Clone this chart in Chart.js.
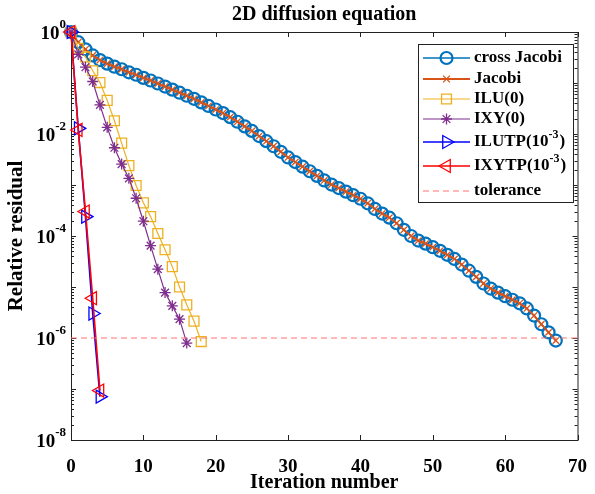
<!DOCTYPE html>
<html>
<head>
<meta charset="utf-8">
<script src="https://cdn.jsdelivr.net/npm/chart.js@4"></script>
<style>
  body { margin: 0; background: #fff; }
  canvas { display: block; }
</style>
</head>
<body>
<canvas id="chart" width="595" height="494"></canvas>
<script>
// 반복 횟수별 상대 잔차
const crossJacobi = [1, 0.631, 0.457, 0.347, 0.282, 0.240, 0.209, 0.186, 0.162, 0.145,
    0.126, 0.112, 0.0977, 0.0851, 0.0741, 0.0646, 0.0562, 0.0490, 0.0417, 0.0355,
    0.0302, 0.0257, 0.0214, 0.0174, 0.0141, 0.0115, 9.12e-3, 7.24e-3, 5.75e-3, 4.47e-3,
    3.47e-3, 2.82e-3, 2.29e-3, 1.86e-3, 1.51e-3, 1.23e-3, 1.02e-3, 8.71e-4, 7.41e-4, 6.31e-4,
    5.37e-4, 4.37e-4, 3.39e-4, 2.75e-4, 2.29e-4, 1.78e-4, 1.32e-4, 1.0e-4, 8.13e-5, 7.08e-5,
    6.03e-5, 5.13e-5, 4.27e-5, 3.55e-5, 2.75e-5, 2.09e-5, 1.58e-5, 1.17e-5, 9.33e-6, 7.76e-6,
    6.61e-6, 5.62e-6, 4.79e-6, 3.80e-6, 2.75e-6, 1.86e-6, 1.29e-6, 8.91e-7];
const jacobi = [1, 0.631, 0.457, 0.347, 0.282, 0.240, 0.209, 0.186, 0.162, 0.145,
    0.126, 0.112, 0.0977, 0.0851, 0.0741, 0.0646, 0.0562, 0.0490, 0.0417, 0.0355,
    0.0302, 0.0257, 0.0214, 0.0174, 0.0141, 0.0115, 9.12e-3, 7.24e-3, 5.75e-3, 4.47e-3,
    3.47e-3, 2.82e-3, 2.29e-3, 1.86e-3, 1.51e-3, 1.23e-3, 1.02e-3, 8.71e-4, 7.41e-4, 6.31e-4,
    5.37e-4, 4.37e-4, 3.39e-4, 2.75e-4, 2.29e-4, 1.78e-4, 1.32e-4, 1.0e-4, 8.13e-5, 7.08e-5,
    6.03e-5, 5.13e-5, 4.27e-5, 3.55e-5, 2.75e-5, 2.09e-5, 1.58e-5, 1.17e-5, 9.33e-6, 7.76e-6,
    6.61e-6, 5.62e-6, 4.79e-6, 3.80e-6, 2.75e-6, 1.86e-6, 1.29e-6, 8.91e-7];
const ilu0 = [1, 0.479, 0.324, 0.174, 0.102, 0.0457, 0.0182, 6.61e-3, 2.40e-3, 9.77e-4,
    4.47e-4, 2.40e-4, 1.12e-4, 5.37e-5, 2.51e-5, 1.0e-5, 4.47e-6, 2.14e-6, 8.51e-7];
const ixy0 = [1, 0.363, 0.204, 0.107, 0.0372, 0.0135, 5.37e-3, 2.57e-3, 1.35e-3, 5.50e-4,
    1.95e-4, 6.46e-5, 2.24e-5, 7.76e-6, 4.27e-6, 2.34e-6, 7.94e-7];
const ilutp = [1, 0.0129, 2.40e-4, 3.02e-6, 7.08e-8];
const ixytp = [1, 0.012, 3.02e-4, 6.03e-6, 9.33e-8];
const tolerance = 1e-6;

// 축 눈금
const xTicks = [0, 10, 20, 30, 40, 50, 60, 70];
const yTickExp = ['-8', '-6', '-4', '-2', '0'];
const yTickVals = [1e-8, 1e-6, 1e-4, 1e-2, 1];

const FONT = "'Liberation Serif', 'Times New Roman', serif";

function toPts(arr) {
    return arr.map(function(v, i) { return { x: i, y: v }; });
}

// 마커 그리기 (범례용)
function drawMarker(c, style, x, y, r, rot) {
    c.beginPath();
    if (style === 'circle') {
        c.arc(x, y, r, 0, Math.PI * 2);
    } else if (style === 'crossRot') {
        var d = r * 0.75;
        c.moveTo(x - d, y - d); c.lineTo(x + d, y + d);
        c.moveTo(x - d, y + d); c.lineTo(x + d, y - d);
    } else if (style === 'rect') {
        var s = r * Math.SQRT1_2;
        c.rect(x - s, y - s, 2 * s, 2 * s);
    } else if (style === 'star') {
        var d2 = r * 0.7;
        c.moveTo(x - r, y); c.lineTo(x + r, y);
        c.moveTo(x, y - r); c.lineTo(x, y + r);
        c.moveTo(x - d2, y - d2); c.lineTo(x + d2, y + d2);
        c.moveTo(x - d2, y + d2); c.lineTo(x + d2, y - d2);
    } else if (style === 'triangle') {
        var a = rot * Math.PI / 180;
        for (var k = 0; k < 3; k++) {
            var t = a + k * 2 * Math.PI / 3;
            var px = x + Math.sin(t) * r, py = y - Math.cos(t) * r;
            if (k === 0) c.moveTo(px, py); else c.lineTo(px, py);
        }
        c.closePath();
    }
    c.stroke();
}

const series = [
    { label: 'cross Jacobi', data: crossJacobi, color: '#0072BD', style: 'circle', r: 6, rot: 0, lw: 1.5, pw: 2.2 },
    { label: 'Jacobi', data: jacobi, color: '#D95319', style: 'crossRot', r: 4.5, rot: 0, lw: 1.8, pw: 1.3 },
    { label: 'ILU(0)', data: ilu0, color: '#EDB120', style: 'rect', r: 7, rot: 0, lw: 1.2, pw: 1.3 },
    { label: 'IXY(0)', data: ixy0, color: '#7E2F8E', style: 'star', r: 5.5, rot: 0, lw: 1.2, pw: 1.3 },
    { label: 'ILUTP', sup: '-3', data: ilutp, color: '#0000FF', style: 'triangle', r: 7.5, rot: 90, lw: 1.6, pw: 1.3 },
    { label: 'IXYTP', sup: '-3', data: ixytp, color: '#FF0000', style: 'triangle', r: 7.5, rot: -90, lw: 1.6, pw: 1.3 }
];

const datasets = series.map(function(s, idx) {
    return {
        label: s.label,
        data: toPts(s.data),
        borderColor: s.color,
        borderWidth: s.lw,
        pointStyle: s.style,
        pointRadius: s.r,
        pointRotation: s.rot,
        pointBorderColor: s.color,
        pointBackgroundColor: 'rgba(0,0,0,0)',
        pointBorderWidth: s.pw,
        fill: false,
        tension: 0,
        clip: false,
        order: 10 - idx
    };
});
datasets.push({
    label: 'tolerance',
    data: [{ x: 0, y: tolerance }, { x: 70, y: tolerance }],
    borderColor: '#FF7070',
    borderWidth: 1.2,
    borderDash: [6, 4],
    pointRadius: 0,
    fill: false,
    clip: false,
    order: 0
});

// 축 박스, 눈금, 제목, 범례
const decor = {
    id: 'decor',
    beforeDatasetsDraw: function(chart) {
        const c = chart.ctx, a = chart.chartArea;
        const xs = chart.scales.x, ys = chart.scales.y;
        c.save();
        c.strokeStyle = '#222';
        c.lineWidth = 1;
        c.beginPath();
        // x 눈금 (안쪽)
        xTicks.forEach(function(v) {
            const px = Math.round(xs.getPixelForValue(v)) + 0.5;
            c.moveTo(px, a.bottom); c.lineTo(px, a.bottom - 5);
            c.moveTo(px, a.top); c.lineTo(px, a.top + 5);
        });
        // y 주/보조 눈금
        for (var d = -8; d <= 0; d++) {
            const py = Math.round(ys.getPixelForValue(Math.pow(10, d))) + 0.5;
            c.moveTo(a.left, py); c.lineTo(a.left + 5, py);
            c.moveTo(a.right, py); c.lineTo(a.right - 5, py);
            if (d < 0) {
                for (var k = 2; k <= 9; k++) {
                    const my = Math.round(ys.getPixelForValue(k * Math.pow(10, d))) + 0.5;
                    c.moveTo(a.left, my); c.lineTo(a.left + 3, my);
                    c.moveTo(a.right, my); c.lineTo(a.right - 3, my);
                }
            }
        }
        c.stroke();
        c.strokeRect(a.left + 0.5, a.top + 0.5, a.right - a.left, a.bottom - a.top);

        // y 눈금 라벨 10^n
        c.fillStyle = '#000';
        c.textBaseline = 'middle';
        yTickVals.forEach(function(v, i) {
            const py = ys.getPixelForValue(v);
            const exp = yTickExp[i];
            c.font = 'bold 13px ' + FONT;
            const ew = c.measureText(exp).width;
            const right = a.left - 5;
            c.textAlign = 'right';
            c.fillText(exp, right, py - 7);
            c.font = 'bold 19px ' + FONT;
            c.fillText('10', right - ew, py + 2);
        });

        // 제목
        c.textAlign = 'center';
        c.font = 'bold 20px ' + FONT;
        c.fillText('2D diffusion equation', (a.left + a.right) / 2, 15);
        c.font = 'bold 20px ' + FONT;
        c.fillText('Iteration number', (a.left + a.right) / 2, 483);
        c.save();
        c.translate(17, (a.top + a.bottom) / 2);
        c.rotate(-Math.PI / 2);
        c.font = 'bold 21px ' + FONT;
        c.fillText('Relative residual', 0, 0);
        c.restore();
        c.restore();
    },
    afterDraw: function(chart) {
        const c = chart.ctx;
        c.save();
        // 범례 상자
        const bx = 418.5, by = 44.5, bw = 155, bh = 158;
        c.fillStyle = '#fff';
        c.fillRect(bx, by, bw, bh);
        c.strokeStyle = '#222';
        c.lineWidth = 1;
        c.strokeRect(bx, by, bw, bh);
        const rows = [58, 79, 99, 119, 142, 166, 191];
        const x0 = 423, x1 = 470, tx = 474;
        c.textBaseline = 'middle';
        c.textAlign = 'left';
        series.forEach(function(s, i) {
            const y = rows[i];
            c.strokeStyle = s.color;
            c.lineWidth = s.lw;
            c.beginPath(); c.moveTo(x0, y); c.lineTo(x1, y); c.stroke();
            c.lineWidth = s.pw;
            drawMarker(c, s.style, (x0 + x1) / 2, y, s.r, s.rot);
            c.fillStyle = '#000';
            c.font = 'bold 17px ' + FONT;
            if (s.sup) {
                const base = s.label + '(10';
                c.fillText(base, tx, y);
                var w = c.measureText(base).width;
                c.font = 'bold 12px ' + FONT;
                c.fillText(s.sup, tx + w, y - 7);
                w += c.measureText(s.sup).width;
                c.font = 'bold 17px ' + FONT;
                c.fillText(')', tx + w + 1, y);
            } else {
                c.fillText(s.label, tx, y);
            }
        });
        // tolerance
        const ty = rows[6];
        c.strokeStyle = '#FF7070';
        c.lineWidth = 1.2;
        c.setLineDash([6, 4]);
        c.beginPath(); c.moveTo(x0, ty); c.lineTo(x1, ty); c.stroke();
        c.setLineDash([]);
        c.fillStyle = '#000';
        c.font = 'bold 17px ' + FONT;
        c.fillText('tolerance', tx, ty);
        c.restore();
    }
};

const config = {
    type: 'line',
    data: { datasets: datasets },
    options: {
        responsive: false,
        animation: false,
        layout: { padding: { top: 32, right: 11, left: 0, bottom: 0 } },
        plugins: {
            legend: { display: false },
            tooltip: { enabled: false },
            title: { display: false }
        },
        scales: {
            x: {
                type: 'linear',
                min: 0,
                max: 70,
                grid: { display: false },
                border: { display: false },
                ticks: {
                    stepSize: 10,
                    maxRotation: 0,
                    padding: 8,
                    color: '#000',
                    font: { family: FONT, weight: 'bold', size: 19 }
                },
                afterFit: function(scale) { scale.height = 54; }
            },
            y: {
                type: 'logarithmic',
                min: 1e-8,
                max: 1,
                grid: { display: false },
                border: { display: false },
                ticks: { display: false },
                afterFit: function(scale) { scale.width = 71; }
            }
        }
    },
    plugins: [decor]
};

const residualChart = new Chart(document.getElementById('chart'), config);
</script>
</body>
</html>
